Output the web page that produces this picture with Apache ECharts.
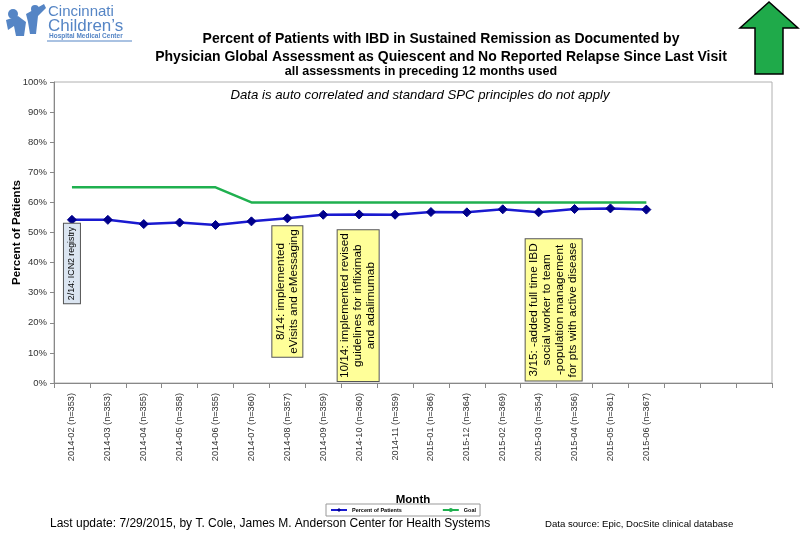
<!DOCTYPE html>
<html>
<head>
<meta charset="utf-8">
<script src="https://cdn.jsdelivr.net/npm/echarts@6/dist/echarts.min.js"></script>
<style>html,body{margin:0;padding:0;background:#fff}#c{width:800px;height:533px}</style>
</head>
<body>
<div id="c"></div>
<script>
// ---- data ----
var categories = ['2014-02 (n=353)','2014-03 (n=353)','2014-04 (n=355)','2014-05 (n=358)','2014-06 (n=355)',
  '2014-07 (n=360)','2014-08 (n=357)','2014-09 (n=359)','2014-10 (n=360)','2014-11 (n=359)',
  '2015-01 (n=366)','2015-12 (n=364)','2015-02 (n=369)','2015-03 (n=354)','2015-04 (n=356)',
  '2015-05 (n=361)','2015-06 (n=367)','','',''];
var percentOfPatients = [54.2,54.2,52.8,53.3,52.5,53.7,54.7,55.9,56.0,55.9,56.8,56.7,57.7,56.7,57.8,58.0,57.6];
var goal = [65,65,65,65,65,60,60,60,60,60,60,60,60,60,60,60,60];
var yTicks = [0,10,20,30,40,50,60,70,80,90,100];
var annoText = ['2/14: ICN2 registry',
  '8/14: implemented\neVisits and eMessaging',
  '10/14: implemented revised\nguidelines for infliximab\nand adalimumab',
  '3/15: -added full time IBD\nsocial worker to team\n-population management\nfor pts with active disease'];
var annoCat = [0, 6, 8, 13];
var annoY = [39.7, 30.4, 25.7, 24.3];

var chart = echarts.init(document.getElementById('c'), null, {renderer:'canvas'});
var FF = '"Liberation Sans", Arial, sans-serif';

// offset is in the label's rotated frame: [0, d] shifts the box right by d px
var annoStyles = [
  {bg:'#dbe5f1', fs:8.8, off:[0,0], pad:[3,3]},
  {bg:'#ffff99', fs:11.8, off:[0,0], pad:[2,3]},
  {bg:'#ffff99', fs:11.8, off:[0,-1], pad:[1,3]},
  {bg:'#ffff99', fs:11.8, off:[0,15], pad:[2,3]}
];
var markData = annoText.map(function(t,i){
  var s = annoStyles[i];
  return {
    coord:[annoCat[i], annoY[i]],
    symbol:'rect', symbolSize:1,
    itemStyle:{color:'rgba(0,0,0,0)'},
    label:{show:true, formatter:t, rotate:90, position:'inside', offset:s.off,
      fontFamily:FF, fontSize:s.fs, lineHeight:Math.round(s.fs*1.1), color:'#000', align:'center', verticalAlign:'middle',
      backgroundColor:s.bg, borderColor:'#555', borderWidth:1, padding:s.pad}
  };
});

var option = {
  backgroundColor:'#fff',
  animation:false,
  textStyle:{fontFamily:FF},
  grid:{left:54, right:28, top:82, bottom:150, show:true, borderColor:'#b0b0b0', borderWidth:1,
    containLabel:false, outerBoundsMode:'none'},
  xAxis:{type:'category', data:categories, boundaryGap:true,
    name:'Month', nameLocation:'middle', nameGap:111, nameMoveOverlap:false,
    nameTextStyle:{fontFamily:FF, fontWeight:'bold', fontSize:11.5, color:'#000'},
    axisLine:{lineStyle:{color:'#888'}},
    axisTick:{show:true, interval:0, length:5, lineStyle:{color:'#888'}},
    axisLabel:{interval:0, rotate:90, fontSize:9.2, color:'#333', margin:10, fontFamily:FF},
    splitLine:{show:false}},
  yAxis:{type:'value', min:0, max:100, interval:10,
    name:'Percent of Patients', nameLocation:'middle', nameGap:31, nameMoveOverlap:false,
    nameTextStyle:{fontFamily:FF, fontWeight:'bold', fontSize:11.6, color:'#000'},
    axisLine:{show:true, lineStyle:{color:'#888'}},
    axisTick:{show:true, length:4, lineStyle:{color:'#888'}},
    axisLabel:{formatter:function(v){return yTicks.indexOf(v)>=0 ? v+'%' : '';}, fontSize:9.5, color:'#333', margin:7, fontFamily:FF},
    splitLine:{show:false}},
  legend:{left:326, top:504, itemWidth:16, itemHeight:5, itemGap:40,
    padding:[3,4], borderColor:'#999', borderWidth:1, backgroundColor:'#fff',
    textStyle:{fontSize:5.5, fontWeight:'bold', color:'#000', fontFamily:FF},
    data:['Percent of Patients','Goal']},
  series:[
    {name:'Percent of Patients', type:'line', data:percentOfPatients,
      symbol:'diamond', symbolSize:9, showAllSymbol:true,
      lineStyle:{color:'#1a1ad0', width:2.5},
      itemStyle:{color:'#00008b', borderColor:'#00008b'},
      z:3,
      markPoint:{silent:true, data:markData, z:5}},
    {name:'Goal', type:'line', data:goal, symbol:'none',
      lineStyle:{color:'#1fb04f', width:2.5}, itemStyle:{color:'#1fb04f'}, z:2}
  ],
  graphic:[
    {type:'text', x:441, y:30, style:{text:'Percent of Patients with IBD in Sustained Remission as Documented by\nPhysician Global Assessment as Quiescent and No Reported Relapse Since Last Visit',
      fill:'#000', font:'bold 14px '+FF, align:'center', lineHeight:18}},
    {type:'text', x:421, y:65, style:{text:'all assessments in preceding 12 months used', fill:'#000', font:'bold 12.5px '+FF, align:'center'}},
    {type:'text', x:420, y:89, z:10, style:{text:'Data is auto correlated and standard SPC principles do not apply', fill:'#000', font:'italic 13.2px '+FF, align:'center'}},
    {type:'text', x:50, y:518, style:{text:'Last update: 7/29/2015, by T. Cole, James M. Anderson Center for Health Systems', fill:'#000', font:'12px '+FF}},
    {type:'text', x:545, y:519, style:{text:'Data source: Epic, DocSite clinical database', fill:'#000', font:'9.6px '+FF}},
    // arrow
    {type:'polygon', shape:{points:[[769,2],[740,28],[755,28],[755,74],[783,74],[783,28],[798,28]]},
      style:{fill:'#1faa4a', stroke:'#000', lineWidth:1.5}},
    // logo
    {type:'group', children:[
      {type:'text', x:48, y:4, style:{text:'Cincinnati', fill:'#5585c5', font:'15px '+FF}},
      {type:'text', x:48, y:18, style:{text:'Children\u2019s', fill:'#5585c5', font:'17px '+FF}},
      {type:'text', x:49, y:33, style:{text:'Hospital Medical Center', fill:'#5585c5', font:'bold 6.5px '+FF}},
      {type:'line', shape:{x1:47, y1:41, x2:132, y2:41}, style:{stroke:'#5585c5', lineWidth:1}},
      {type:'circle', shape:{cx:13, cy:14, r:5}, style:{fill:'#5585c5'}},
      {type:'circle', shape:{cx:35, cy:9, r:4}, style:{fill:'#5585c5'}},
      {type:'polygon', shape:{points:[[6,20],[18,16],[26,22],[24,36],[16,36],[14,26],[8,30]]}, style:{fill:'#5585c5'}},
      {type:'polygon', shape:{points:[[26,14],[44,4],[46,8],[38,16],[36,34],[30,34],[28,22]]}, style:{fill:'#5585c5'}}
    ]}
  ]
};
chart.setOption(option);
</script>
</body>
</html>
